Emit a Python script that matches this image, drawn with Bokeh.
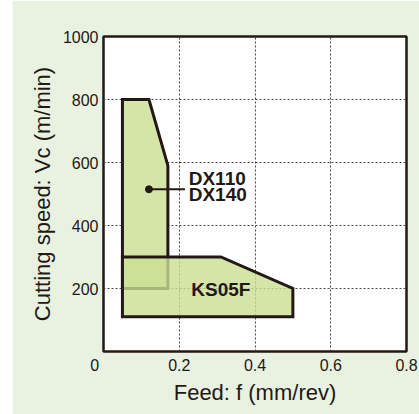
from bokeh.plotting import figure
from bokeh.models import Range1d, FixedTicker, ColumnDataSource
from bokeh.core.properties import value
from bokeh.embed import file_html
from bokeh.resources import INLINE

# ---- data ----
x_ticks = [0, 0.2, 0.4, 0.6, 0.8]
x_tick_labels = ["0\u00a0\u00a0\u00a0\u00a0", "0.2", "0.4", "0.6", "0.8"]
y_ticks = [200, 400, 600, 800, 1000]
y_tick_labels = ["200", "400", "600", "800", "1000"]

dx_x = [0.05, 0.05, 0.12, 0.17, 0.17]
dx_y = [200, 800, 800, 590, 200]
ks_x = [0.05, 0.05, 0.31, 0.50, 0.50]
ks_y = [110, 300, 300, 200, 110]

dx_dot = (0.12, 515)
dx_leader_end = 0.215
dx_labels = ["DX110", "DX140"]
dx_label_pos = [(0.225, 548), (0.225, 497)]
ks_label = "KS05F"
ks_label_pos = (0.31, 197)

FONT = "Liberation Sans"
INK = "#231815"
BG = "#e9f2e1"
FILL = "#d5e5a8"

p = figure(width=407, height=414, output_backend="svg", toolbar_location=None,
           x_range=Range1d(0, 0.8), y_range=Range1d(0, 1000))
p.margin = (0, 0, 0, 12)
p.min_border_left = 91
p.min_border_right = 13
p.min_border_top = 36
p.min_border_bottom = 63
p.border_fill_color = BG
p.background_fill_color = "white"
p.outline_line_color = INK
p.outline_line_width = 2.5
p.outline_line_alpha = 1

# grid
for g in (p.xgrid, p.ygrid):
    g.grid_line_color = "#444444"
    g.grid_line_dash = "2 2"
    g.grid_line_width = 1

# axes
p.xaxis.ticker = FixedTicker(ticks=x_ticks)
p.yaxis.ticker = FixedTicker(ticks=y_ticks)
p.xaxis.major_label_overrides = {t: l for t, l in zip(x_ticks, x_tick_labels)}
p.yaxis.major_label_overrides = {t: l for t, l in zip(y_ticks, y_tick_labels)}
for ax in (p.xaxis, p.yaxis):
    ax.axis_line_color = None
    ax.major_tick_line_color = None
    ax.minor_tick_line_color = None
    ax.major_tick_in = 0
    ax.major_tick_out = 0
    ax.major_label_standoff = 5
    ax.major_label_text_font = FONT
    ax.major_label_text_font_size = "16px"
    ax.major_label_text_color = INK
    ax.axis_label_text_font = FONT
    ax.axis_label_text_font_size = "22px"
    ax.axis_label_text_font_style = "normal"
    ax.axis_label_text_color = INK
p.xaxis.axis_label = "Feed: f (mm/rev)"
p.yaxis.axis_label = "Cutting speed: Vc (m/min)"
p.xaxis.axis_label_standoff = 3
p.yaxis.axis_label_standoff = 5

# regions
p.patch(dx_x, dx_y, fill_color=FILL, fill_alpha=1, line_color=INK, line_width=3, line_join="miter")
p.patch(ks_x, ks_y, fill_color="#cbdf92", fill_alpha=0.8, line_color=INK, line_width=3, line_join="miter")

# leader and dot
p.line([dx_dot[0], dx_leader_end], [dx_dot[1], dx_dot[1]], line_color=INK, line_width=2)
p.scatter([dx_dot[0]], [dx_dot[1]], size=7, color=INK)

src = ColumnDataSource(dict(x=[q[0] for q in dx_label_pos], y=[q[1] for q in dx_label_pos], t=dx_labels))
p.text(x="x", y="y", text="t", source=src, text_font=value(FONT), text_font_style="bold",
       text_font_size="19px", text_color=INK, text_align="left", text_baseline="middle")
p.text(x=[ks_label_pos[0]], y=[ks_label_pos[1]], text=[ks_label], text_font=value(FONT),
       text_font_style="bold", text_font_size="19px", text_color=INK,
       text_align="center", text_baseline="middle")

open("out.html", "w").write(file_html(p, INLINE))
